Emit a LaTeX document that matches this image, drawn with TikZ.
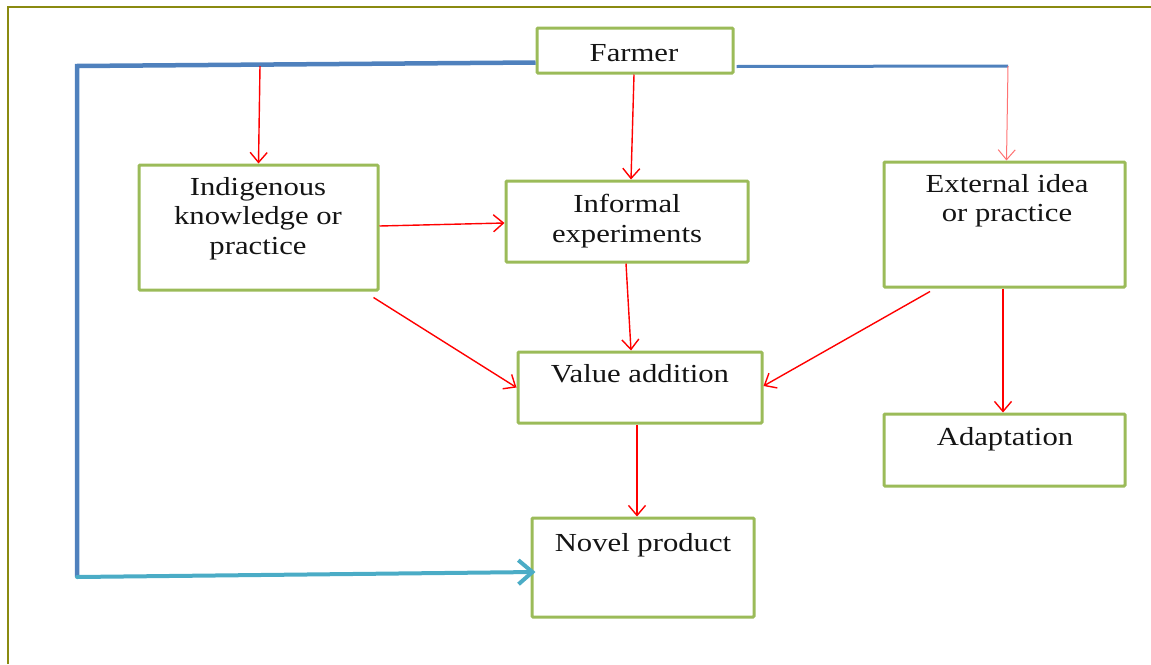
\documentclass[tikz,border=0pt]{standalone}
\usepackage{fontspec}
\setmainfont{Liberation Serif}[FakeStretch=1.18]
\usetikzlibrary{arrows.meta,calc}
\definecolor{boxgreen}{HTML}{9BBB59}
\definecolor{lineblue}{HTML}{4F81BD}
\definecolor{linecyan}{HTML}{4BACC6}
\definecolor{frameolive}{HTML}{8A8A10}
\definecolor{txt}{HTML}{141414}
\tikzset{
  box/.style={draw=boxgreen, line width=3pt, inner sep=0pt, rounded corners=1pt},
  lbl/.style={inner sep=0pt, text=txt, align=center, font=\fontsize{26}{29.5}\selectfont},
  redarrow/.style={draw=red, line width=1.4pt, -{Straight Barb[length=10pt,width=17pt,line width=1.4pt]}},
  bluepath/.style={draw=lineblue, line width=4.5pt},
  cyanarrow/.style={draw=linecyan, line width=4pt, line cap=round, -{Straight Barb[length=14pt,width=24pt,line width=4pt]}},
}
\begin{document}
\begin{tikzpicture}[x=1pt,y=-1pt]
\useasboundingbox (0,0) rectangle (1151,664);
% frame
\draw[frameolive, line width=2pt] (7.5,664) -- (7.5,6.5) -- (1151,6.5);
% boxes
\node[box, minimum width=196pt, minimum height=45pt] (farmer) at (635,50.5) {};
\node[box, minimum width=239pt, minimum height=125pt] (indig) at (258.5,227.5) {};
\node[box, minimum width=242pt, minimum height=81pt] (informal) at (627,221.5) {};
\node[box, minimum width=241pt, minimum height=125pt] (external) at (1004.5,224.5) {};
\node[box, minimum width=244pt, minimum height=71pt] (value) at (640,387.5) {};
\node[box, minimum width=241pt, minimum height=72pt] (adapt) at (1004.5,450) {};
\node[box, minimum width=222pt, minimum height=99pt] (novel) at (643,567.5) {};
% labels
\node[lbl, anchor=base] (tfarmer) at (634,61) {Farmer};
\node[lbl, anchor=north] (tindig) at (258,177) {Indigenous\\knowledge or\\practice};
\node[lbl, anchor=north] (tinformal) at (627,194) {Informal\\experiments};
\node[lbl, anchor=north] (texternal) at (1007,174) {External idea\\or practice};
\node[lbl, anchor=base] (tvalue) at (640,382) {Value addition};
\node[lbl, anchor=base] (tadapt) at (1005,445) {Adaptation};
\node[lbl, anchor=base] (tnovel) at (643,551) {Novel product};
% coordinates
\coordinate (tl) at (77,66);
\coordinate (bl) at (77,577);
\coordinate (tr) at (1008,66);
\coordinate (ti) at (260,66);
% blue feedback
\draw[bluepath] ([yshift=-12pt]farmer.west) -- (tl) -- (bl);
\draw[cyanarrow] (bl) -- ([xshift=5pt,yshift=-4.5pt]novel.west);
\draw[draw=lineblue, line width=3pt] ([xshift=2pt,yshift=-16pt]farmer.east) -- (tr);
% red arrows
\draw[draw=red!55, line width=1pt, -{Straight Barb[length=10pt,width=17pt,line width=1pt]}] (tr) -- ([xshift=2pt]external.north);
\draw[redarrow] (ti) -- (indig.north);
\draw[redarrow] ([xshift=-1pt]farmer.south) -- ([xshift=4pt]informal.north);
\draw[redarrow] ([yshift=1.5pt]indig.east) -- ([yshift=-1.5pt]informal.west);
\draw[redarrow] ([xshift=-1pt]informal.south) -- ([xshift=-9pt]value.north);
\draw[redarrow] ([xshift=-6pt,yshift=-6pt]indig.south east) -- (value.west);
\draw[redarrow] ([xshift=-74.5pt,yshift=-3pt]external.south) -- ([yshift=1.5pt]value.east);
\draw[redarrow] ([xshift=-1.5pt]external.south) -- ([xshift=-1.5pt]adapt.north);
\draw[redarrow] ([xshift=-3pt]value.south) -- ([xshift=-6pt]novel.north);
\end{tikzpicture}
\end{document}
